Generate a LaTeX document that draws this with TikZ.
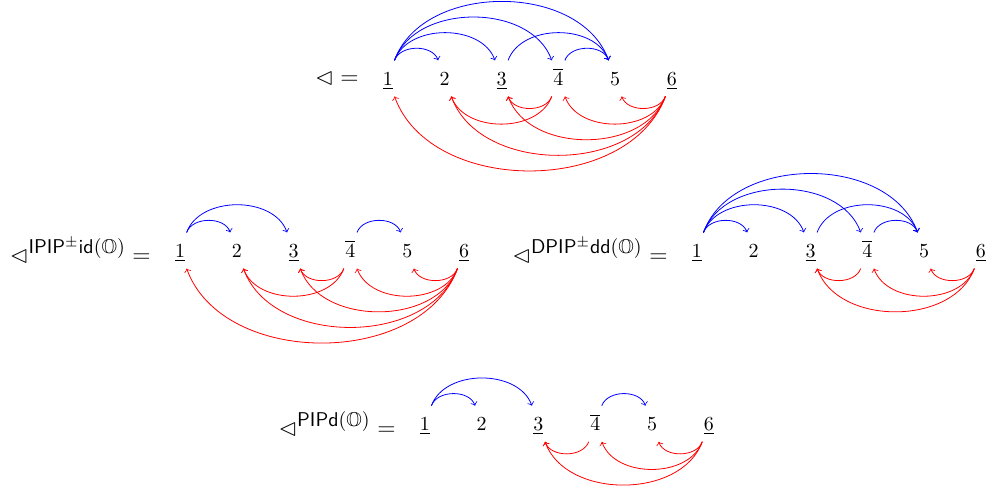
\documentclass[tikz,border=0pt]{standalone}
\usepackage{amsmath,amssymb}
\usetikzlibrary{positioning}
\tikzset{
  num/.style={text height=9pt, text depth=2pt},
  lab/.style={font=\large},
  fwd/.style={->, blue, bend left=70},
  bwd/.style={->, red, bend left=70}
}
\begin{document}
\begin{tikzpicture}
        \useasboundingbox (0,0) rectangle (17.43cm,-8.64cm);

        % full order
        \begin{scope}[xshift=6.83cm, yshift=-1.38cm]
        \node[num] (t1) at (0,0) {$\underline{1}$};
        \node[num] (t2) at (1cm,0) {$2$};
        \node[num] (t3) at (2cm,0) {$\underline{3}$};
        \node[num] (t4) at (3cm,0) {$\overline{4}$};
        \node[num] (t5) at (4cm,0) {$5$};
        \node[num] (t6) at (5cm,0) {$\underline{6}$};
        \node[lab, left=0.18cm of t1] (tlab) {$\lhd =$};
        \path (t1) edge[fwd] (t2) edge[fwd] (t3) edge[fwd] (t4) edge[fwd] (t5);
        \path (t3) edge[fwd] (t5);
        \path (t4) edge[fwd] (t5);
        \path (t4) edge[bwd] (t3) edge[bwd] (t2);
        \path (t6) edge[bwd] (t5) edge[bwd] (t4) edge[bwd] (t3) edge[bwd] (t2) edge[bwd] (t1);
        \end{scope}

        % IPIP
        \begin{scope}[xshift=3.17cm, yshift=-4.41cm]
        \node[num] (l1) at (0,0) {$\underline{1}$};
        \node[num] (l2) at (1cm,0) {$2$};
        \node[num] (l3) at (2cm,0) {$\underline{3}$};
        \node[num] (l4) at (3cm,0) {$\overline{4}$};
        \node[num] (l5) at (4cm,0) {$5$};
        \node[num] (l6) at (5cm,0) {$\underline{6}$};
        \node[lab, left=0.18cm of l1] (llab) {$\lhd^{\text{\normalsize\sffamily IPIP$^{\pm}$id$(\mathbb{O})$}} =$};
        \path (l1) edge[fwd] (l2) edge[fwd] (l3);
        \path (l4) edge[fwd] (l5);
        \path (l4) edge[bwd] (l3) edge[bwd] (l2);
        \path (l6) edge[bwd] (l5) edge[bwd] (l4) edge[bwd] (l3) edge[bwd] (l2) edge[bwd] (l1);
        \end{scope}

        % DPIP
        \begin{scope}[xshift=12.27cm, yshift=-4.41cm]
        \node[num] (r1) at (0,0) {$\underline{1}$};
        \node[num] (r2) at (1cm,0) {$2$};
        \node[num] (r3) at (2cm,0) {$\underline{3}$};
        \node[num] (r4) at (3cm,0) {$\overline{4}$};
        \node[num] (r5) at (4cm,0) {$5$};
        \node[num] (r6) at (5cm,0) {$\underline{6}$};
        \node[lab, left=0.18cm of r1] (rlab) {$\lhd^{\text{\normalsize\sffamily DPIP$^{\pm}$dd$(\mathbb{O})$}} =$};
        \path (r1) edge[fwd] (r2) edge[fwd] (r3) edge[fwd] (r4) edge[fwd] (r5);
        \path (r3) edge[fwd] (r5);
        \path (r4) edge[fwd] (r5);
        \path (r4) edge[bwd] (r3);
        \path (r6) edge[bwd] (r5) edge[bwd] (r4) edge[bwd] (r3);
        \end{scope}

        % PIPd
        \begin{scope}[xshift=7.48cm, yshift=-7.46cm]
        \node[num] (b1) at (0,0) {$\underline{1}$};
        \node[num] (b2) at (1cm,0) {$2$};
        \node[num] (b3) at (2cm,0) {$\underline{3}$};
        \node[num] (b4) at (3cm,0) {$\overline{4}$};
        \node[num] (b5) at (4cm,0) {$5$};
        \node[num] (b6) at (5cm,0) {$\underline{6}$};
        \node[lab, left=0.18cm of b1] (blab) {$\lhd^{\text{\normalsize\sffamily PIPd$(\mathbb{O})$}} =$};
        \path (b1) edge[fwd] (b2) edge[fwd] (b3);
        \path (b4) edge[fwd] (b5);
        \path (b4) edge[bwd] (b3);
        \path (b6) edge[bwd] (b5) edge[bwd] (b4) edge[bwd] (b3);
        \end{scope}
    \end{tikzpicture}
\end{document}
